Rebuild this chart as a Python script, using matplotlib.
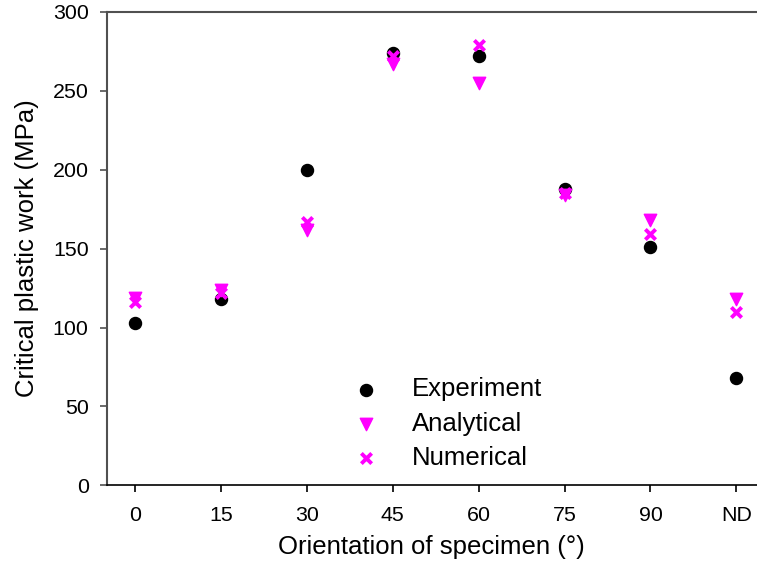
import numpy as np
import matplotlib
matplotlib.use("Agg")
import matplotlib.pyplot as plt

plt.rcParams['font.family'] = ['Liberation Sans', 'DejaVu Sans']

# data
categories = ['0', '15', '30', '45', '60', '75', '90', 'ND']
experiment = [103, 118, 200, 274, 272, 188, 151, 68]
analytical = [119, 124, 162, 267, 255, 184, 168, 118]
numerical = [116, 122, 167, 272, 279, 185, 159, 110]

x = np.arange(len(categories))

fig = plt.figure(figsize=(7.57, 5.65), dpi=100)
ax = fig.add_axes([0.141, 0.141, 0.859, 0.838])

ax.scatter(x, experiment, marker='o', s=75, color='black', zorder=3, label='Experiment')
ax.scatter(x, analytical, marker='v', s=80, color='#ff00ff', zorder=3, label='Analytical')
ax.scatter(x, numerical, marker='x', s=55, color='#ff00ff', linewidths=2.8, zorder=3, label='Numerical')

ax.set_xlim(-0.33, 7.24)
ax.set_ylim(0, 300)
ax.set_xticks(x)
ax.set_xticklabels(categories)
ax.set_yticks(np.arange(0, 301, 50))

ax.spines['right'].set_visible(False)
ax.spines['left'].set_color('#505050')
ax.spines['top'].set_color('#505050')
ax.spines['left'].set_linewidth(1.5)
ax.spines['top'].set_linewidth(1.5)
ax.spines['bottom'].set_linewidth(1.2)

ax.tick_params(axis='y', direction='out', length=5, width=1.2, color='#505050', labelsize=15.4, pad=8)
ax.tick_params(axis='x', direction='out', length=5, width=1.2, labelsize=15.4, pad=10)

ax.set_xlabel('Orientation of specimen (°)', fontsize=18.5, labelpad=7)
ax.set_ylabel('Critical plastic work (MPa)', fontsize=18.5, labelpad=10)

leg = ax.legend(loc='upper left', bbox_to_anchor=(0.359, 0.255), frameon=False,
                fontsize=18.5, scatterpoints=1, handlelength=1.0,
                handletextpad=1.3, labelspacing=0.4, borderpad=0)

fig.savefig('out.png', dpi=100)
